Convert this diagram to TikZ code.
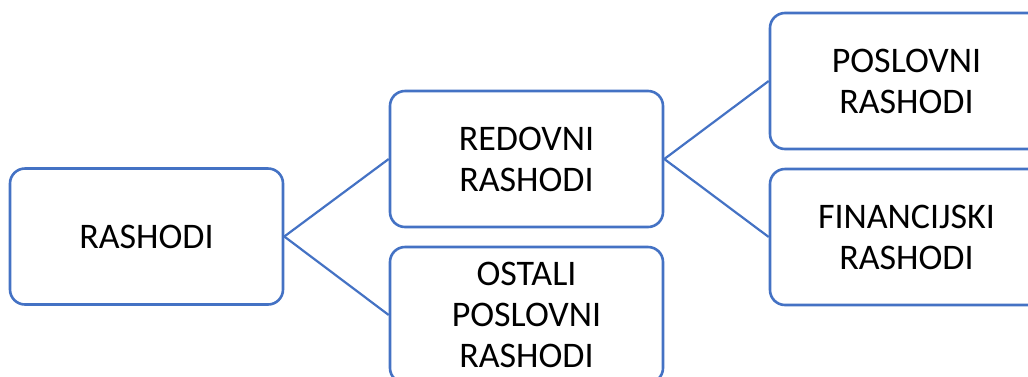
\documentclass[tikz,border=0pt]{standalone}
\usepackage{fontspec}
\setmainfont{Carlito}
\definecolor{boxblue}{HTML}{4472C4}
\tikzset{
  box/.style={draw=boxblue, line width=2.6pt, rounded corners=15pt, fill=white,
    minimum width=273pt, minimum height=136pt, inner sep=0pt, align=center,
    font=\fontsize{36}{41}\selectfont, text=black},
  link/.style={draw=boxblue, line width=2.2pt}
}
\begin{document}
\begin{tikzpicture}[x=1pt,y=-1pt]
\useasboundingbox (0,0) rectangle (1028,376);
\clip (0,0) rectangle (1028,376);
\node[box] (root) at (146.5,236.5) {RASHODI};
\node[box] (redovni) at (526.5,159) {REDOVNI\\RASHODI};
\node[box] (ostali) at (526.5,315) {OSTALI\\POSLOVNI\\RASHODI};
\node[box] (poslovni) at (906.5,81) {POSLOVNI\\RASHODI};
\node[box] (financ) at (906.5,237) {FINANCIJSKI\\RASHODI};
\draw[link] (root.east) -- (redovni.west);
\draw[link] (root.east) -- (ostali.west);
\draw[link] (redovni.east) -- (poslovni.west);
\draw[link] (redovni.east) -- (financ.west);
\end{tikzpicture}
\end{document}
